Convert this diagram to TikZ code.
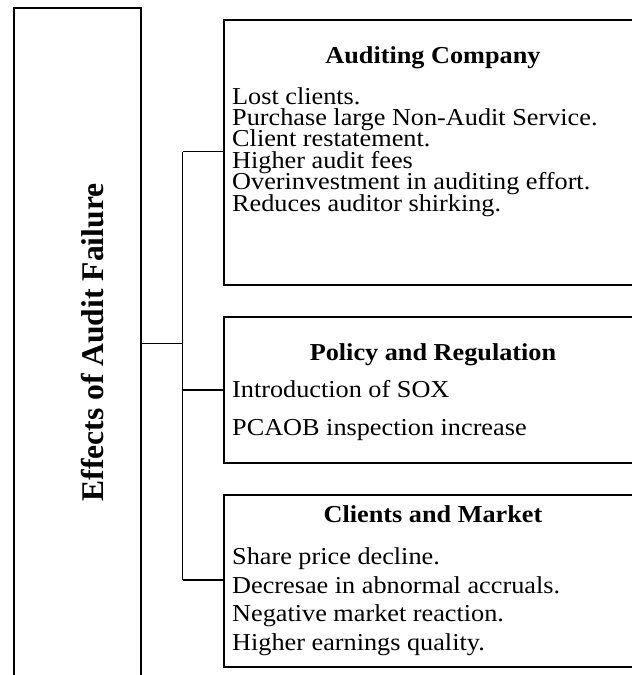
\documentclass[tikz,border=0pt]{standalone}
\usepackage{fontspec}
\setmainfont{Liberation Serif}[FakeStretch=1.08]
\newfontfamily\titlefont{Liberation Serif}
\begin{document}
\begin{tikzpicture}[x=1pt,y=1pt,
  box/.style={draw, line width=2pt, inner sep=0pt, outer sep=0pt, anchor=north west},
  conn/.style={line width=1.1pt},
  bodytext/.style={anchor=base west, inner sep=0pt, font=\fontsize{24.3}{24}\selectfont},
  headtext/.style={anchor=base, inner sep=0pt, font=\fontsize{24.3}{24}\selectfont\bfseries},
  titletext/.style={anchor=base, inner sep=0pt, rotate=90, font=\titlefont\fontsize{31.6}{32}\selectfont\bfseries}]
\useasboundingbox (0,0) rectangle (632,-675);
\clip (0,0) rectangle (632,-675);
% boxes
\node[box, minimum width=126.8pt, minimum height=700pt] (T) at (13.7,-7.7) {};
\node[box, minimum width=430pt, minimum height=264.7pt] (B1) at (224.2,-20) {};
\node[box, minimum width=430pt, minimum height=145.7pt] (B2) at (224.2,-317) {};
\node[box, minimum width=430pt, minimum height=172pt] (B3) at (224.2,-495) {};
% title
\node[titletext] (title) at (103,-342.5) {Effects of Audit Failure};
% box 1
\node[headtext] (h1) at (433,-63) {Auditing Company};
\node[bodytext] (a1) at (232,-104) {Lost clients.};
\node[bodytext] (a2) at (232,-125.4) {Purchase large Non-Audit Service.};
\node[bodytext] (a3) at (232,-146.8) {Client restatement.};
\node[bodytext] (a4) at (232,-168.2) {Higher audit fees};
\node[bodytext] (a5) at (232,-189.6) {Overinvestment in auditing effort.};
\node[bodytext] (a6) at (232,-211) {Reduces auditor shirking.};
% box 2
\node[headtext] (h2) at (433,-360) {Policy and Regulation};
\node[bodytext] (p1) at (232,-397) {Introduction of SOX};
\node[bodytext] (p2) at (232,-435) {PCAOB inspection increase};
% box 3
\node[headtext] (h3) at (433,-522) {Clients and Market};
\node[bodytext] (c1) at (232,-564.5) {Share price decline.};
\node[bodytext] (c2) at (232,-593.2) {Decresae in abnormal accruals.};
\node[bodytext] (c3) at (232,-621.8) {Negative market reaction.};
\node[bodytext] (c4) at (232,-650.5) {Higher earnings quality.};
% connectors
\coordinate (hub) at (182.7,-343.3);
\coordinate (j1) at (182.7,-151.7);
\coordinate (j2) at (182.7,-390);
\coordinate (j3) at (182.7,-580);
\draw[conn] (T.east |- hub) -- (hub);
\draw[conn] (j1) -- (j3);
\draw[conn] (j1) -- (j1 -| B1.west);
\draw[conn] (j2) -- (j2 -| B2.west);
\draw[conn] (j3) -- (j3 -| B3.west);
\end{tikzpicture}
\end{document}
